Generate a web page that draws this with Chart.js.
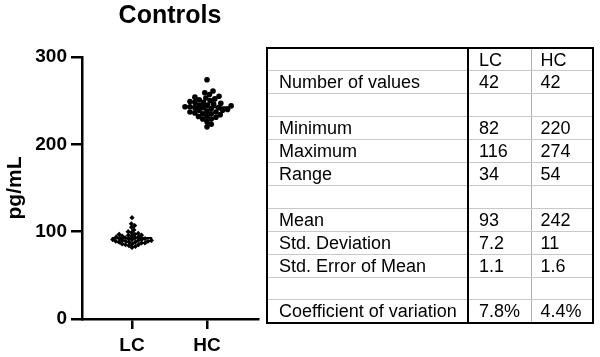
<!DOCTYPE html>
<html><head><meta charset="utf-8">
<script src="https://cdn.jsdelivr.net/npm/chart.js@4"></script>
<style>
html,body{margin:0;padding:0;background:#fff;}
#wrap{position:relative;width:600px;height:357px;overflow:hidden;}
#c{position:absolute;left:0;top:0;}
#stats{position:absolute;left:266px;top:47px;width:326px;height:275px;border-collapse:collapse;table-layout:fixed;
  font-family:"Liberation Sans",Arial,sans-serif;font-size:18px;color:#000;border:2px solid #000;}
#stats td{padding:0 0 0 11px;line-height:1;white-space:nowrap;overflow:hidden;border-top:1px solid #c8c8c8;border-bottom:1px solid #c8c8c8;vertical-align:middle;}
#stats td.c1{border-right:2px solid #000;}
#stats td.c2{border-right:1px solid #b0b0b0;padding-left:10px;}
#stats td.c3{padding-left:9px;}
</style></head>
<body><div id="wrap"><canvas id="c" width="600" height="357"></canvas>
<table id="stats"><colgroup><col style="width:201px"><col style="width:63px"><col style="width:62px"></colgroup><tbody id="tb"></tbody></table></div>
<script>
// ---- data ----
const categories = ['LC', 'HC'];
const lcValues = [82,83,84,85,85,86,86,87,87,88,88,88,89,89,89,90,90,90,91,91,91,92,92,92,93,93,94,94,95,95,96,96,97,97,98,99,100,102,105,107,109,116];
const hcValues = [220,223,226,229,229,231,232,232,234,235,235,236,237,237,238,239,239,240,241,242,242,242,243,243,244,245,245,246,247,248,248,249,250,251,252,253,254,255,257,259,261,274];
const yTicks = [0, 100, 200, 300];
const statLabels = ['', 'Number of values', '', 'Minimum', 'Maximum', 'Range', '', 'Mean', 'Std. Deviation', 'Std. Error of Mean', '', 'Coefficient of variation'];
const lcStats = ['LC', '42', '', '82', '116', '34', '', '93', '7.2', '1.1', '', '7.8%'];
const hcStats = ['HC', '42', '', '220', '274', '54', '', '242', '11', '1.6', '', '4.4%'];

// ---- table ----
const tb = document.getElementById('tb');
statLabels.forEach((lab, i) => {
  const tr = document.createElement('tr');
  tr.style.height = (275 / statLabels.length) + 'px';
  [[lab, 'c1'], [lcStats[i], 'c2'], [hcStats[i], 'c3']].forEach(([t, cl]) => {
    const td = document.createElement('td'); td.className = cl; td.textContent = t; tr.appendChild(td);
  });
  tb.appendChild(tr);
});

// ---- chart ----
const FONT = '"Liberation Sans", Arial, sans-serif';
Chart.defaults.font.family = FONT;
Chart.defaults.color = '#000';
const mean = a => a.reduce((s, v) => s + v, 0) / a.length;
const lcMean = mean(lcValues), hcMean = mean(hcValues);
const tickFont = { family: FONT, size: 19, weight: 'bold' };

const chart = new Chart(document.getElementById('c'), {
  type: 'scatter',
  data: {
    datasets: [
      { label: 'LC', order: 2, data: lcValues.map(v => ({ x: 1, y: v })), pointStyle: 'rectRot', pointRadius: 2.6, backgroundColor: '#000', borderColor: '#000', borderWidth: 0 },
      { label: 'HC', order: 2, data: hcValues.map(v => ({ x: 2, y: v })), pointStyle: 'circle', pointRadius: 2.8, backgroundColor: '#000', borderColor: '#000', borderWidth: 0 },
      { type: 'line', order: 0, label: 'LC mean', data: [{ x: 1 - 0.27, y: lcMean }, { x: 1 + 0.27, y: lcMean }], borderColor: '#000', borderWidth: 2, pointRadius: 0 },
      { type: 'line', order: 0, label: 'HC mean', data: [{ x: 2 - 0.3, y: hcMean }, { x: 2 + 0.3, y: hcMean }], borderColor: '#000', borderWidth: 2, pointRadius: 0 }
    ]
  },
  options: {
    responsive: false, animation: false,
    layout: { padding: { left: 0, right: 342, top: 0, bottom: 0 } },
    plugins: {
      legend: { display: false }, tooltip: { enabled: false },
      title: { display: true, text: 'Controls', fullSize: false, color: '#000', font: { family: FONT, size: 25, weight: 'bold' }, padding: { top: 1, bottom: 26 } }
    },
    scales: {
      x: {
        type: 'linear', min: 1 / 3, max: 2.68,
        afterBuildTicks: s => { s.ticks = categories.map((c, i) => ({ value: i + 1 })); },
        ticks: { callback: v => categories[Math.round(v) - 1], font: tickFont, color: '#000', padding: 5, maxRotation: 0, autoSkip: false },
        grid: { drawOnChartArea: false, drawTicks: true, tickLength: 10, color: '#000', lineWidth: 2.5 },
        border: { display: true, color: '#000', width: 2.5 },
        afterFit: s => { s.height = 38; }
      },
      y: {
        min: 0, max: 300,
        afterBuildTicks: s => { s.ticks = yTicks.map(v => ({ value: v })); },
        ticks: { font: tickFont, color: '#000', padding: 4 },
        grid: { drawOnChartArea: false, drawTicks: true, tickLength: 11, color: '#000', lineWidth: 2.5 },
        border: { display: true, color: '#000', width: 2.5 },
        title: { display: true, text: 'pg/mL', color: '#000', font: { family: FONT, size: 21, weight: 'bold' }, padding: { top: 3, bottom: 0 } },
        afterFit: s => { s.width = 82; }
      }
    }
  }
});

// beeswarm spread (layout only, computed from values via the scales)
function swarm(values, center, d) {
  const xs = chart.scales.x, ys = chart.scales.y;
  const cx = xs.getPixelForValue(center);
  const ppu = xs.getPixelForValue(center + 1) - cx;
  const placed = [], out = [];
  const order = values.map((v, i) => i).sort((a, b) => values[a] - values[b]);
  for (const i of order) {
    const py = ys.getPixelForValue(values[i]);
    const cands = [0];
    for (const p of placed) {
      const dy = py - p.y;
      if (Math.abs(dy) < d) { const dx = Math.sqrt(d * d - dy * dy); cands.push(p.x + dx, p.x - dx); }
    }
    cands.sort((a, b) => Math.abs(a) - Math.abs(b));
    let best = 0;
    for (const c of cands) {
      if (placed.every(p => (p.x - c) ** 2 + (p.y - py) ** 2 >= d * d - 0.01)) { best = c; break; }
    }
    placed.push({ x: best, y: py });
    out.push({ x: center + best / ppu, y: values[i] });
  }
  return out;
}
chart.data.datasets[0].data = swarm(lcValues, 1, 3.5);
chart.data.datasets[1].data = swarm(hcValues, 2, 5.0);
chart.update('none');
</script></body></html>
